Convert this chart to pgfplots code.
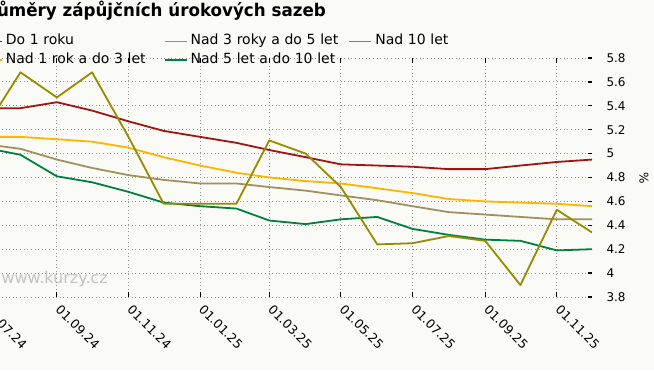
\documentclass[border=0pt]{standalone}
\usepackage{pgfplots}
\pgfplotsset{compat=1.18}
\usepackage{fontspec}
\setmainfont{DejaVu Sans}
\definecolor{bg}{RGB}{250,250,246}
\definecolor{cred}{RGB}{160,20,20}
\definecolor{corange}{RGB}{255,180,0}
\definecolor{ckhaki}{RGB}{160,145,95}
\definecolor{cgreen}{RGB}{0,128,64}
\definecolor{colive}{RGB}{150,140,0}
\definecolor{gridc}{RGB}{150,150,150}
\definecolor{wm}{RGB}{195,195,195}
\pgfplotsset{mylegimg/.style={legend image code/.code={\path (0pt,0pt) -- (22pt,0pt); \draw[##1, line width=1.8pt] (0pt,0pt) -- (13pt,0pt);}}}

\begin{document}
\begin{tikzpicture}[x=1pt,y=1pt]
\fill[bg] (0,0) rectangle (654,370);
\useasboundingbox (0,0) rectangle (654,370);
\clip (0,0) rectangle (654,370);
\node[anchor=base east, inner sep=0pt, xscale=0.955, transform shape, font=\bfseries\fontsize{17.5}{20}\selectfont] at (326,353) {Průměry zápůjčních úrokových sazeb};
\node[anchor=east, inner sep=0pt, text=wm, font=\fontsize{16}{18}\selectfont] at (108,91) {www.kurzy.cz};
\begin{axis}[
  at={(-15.9pt,73pt)}, anchor=south west, scale only axis,
  width=607.9pt, height=239pt,
  xmin=0, xmax=518, ymin=3.8, ymax=5.8,
  axis line style={draw=none},
  grid=major,
  major grid style={gridc, dash pattern=on 1pt off 2.6pt, line width=0.8pt},
  xtick={0,62,123,184,243,304,365,427,488},
  xticklabels={01.07.24,01.09.24,01.11.24,01.01.25,01.03.25,01.05.25,01.07.25,01.09.25,01.11.25},
  minor x tick num=5,
  xtick pos=both,
  ytick={3.8,4,4.2,4.4,4.6,4.8,5,5.2,5.4,5.6,5.8},
  yticklabels={3.8,4,4.2,4.4,4.6,4.8,5,5.2,5.4,5.6,5.8},
  ytick pos=right, yticklabel pos=right,
  tick align=inside,
  major tick length=4.5pt, minor tick length=2.5pt,
  tick style={black, line width=0.8pt},
  ytick style={line width=1.3pt},
  xticklabel style={rotate=-45, anchor=north west, font=\fontsize{12.5}{14}\selectfont, xshift=4.8pt, yshift=1.8pt},
  yticklabel style={font=\fontsize{12}{14}\selectfont, anchor=west, xshift=11pt},
  ylabel={\%},
  ylabel style={at={(axis description cs:1.0855,0.498)}, anchor=center, font=\fontsize{12}{14}\selectfont, rotate=180},
  legend columns=3,
  legend cell align=left,
  legend style={draw=none, fill=none, inner sep=0pt, outer sep=0pt,
    at={(-0.0084,1.0963)}, anchor=north west,
    font=\fontsize{14}{16}\selectfont, row sep=5.5pt,
    nodes={text width=155pt, align=left, inner xsep=3pt, inner ysep=0pt, text height=10pt, text depth=3pt}},
  every axis plot/.append style={line width=1.8pt, line join=round},
]
\addlegendimage{cred, mylegimg}
\addlegendentry{Do 1 roku}
\addlegendimage{ckhaki, mylegimg}
\addlegendentry{Nad 3 roky a do 5 let}
\addlegendimage{colive, mylegimg}
\addlegendentry{Nad 10 let}
\addlegendimage{corange, mylegimg}
\addlegendentry{Nad 1 rok a do 3 let}
\addlegendimage{cgreen, mylegimg}
\addlegendentry{Nad 5 let a do 10 let}

% Do 1 roku
\addplot[cred, forget plot] coordinates {(0,5.38) (31,5.38) (62,5.43) (92,5.36) (123,5.27) (153,5.19) (184,5.14) (215,5.09) (243,5.03) (274,4.97) (304,4.91) (335,4.90) (365,4.89) (396,4.87) (427,4.87) (457,4.90) (488,4.93) (518,4.95)};
% Nad 1 rok a do 3 let
\addplot[corange, forget plot] coordinates {(0,5.14) (31,5.14) (62,5.12) (92,5.10) (123,5.05) (153,4.97) (184,4.90) (215,4.84) (243,4.80) (274,4.77) (304,4.75) (335,4.71) (365,4.67) (396,4.62) (427,4.60) (457,4.59) (488,4.58) (518,4.56)};
% Nad 3 roky a do 5 let
\addplot[ckhaki, forget plot] coordinates {(0,5.08) (31,5.04) (62,4.95) (92,4.88) (123,4.82) (153,4.78) (184,4.75) (215,4.75) (243,4.72) (274,4.69) (304,4.65) (335,4.61) (365,4.56) (396,4.51) (427,4.49) (457,4.47) (488,4.45) (518,4.45)};
% Nad 5 let a do 10 let
\addplot[cgreen, forget plot] coordinates {(0,5.05) (31,4.99) (62,4.81) (92,4.76) (123,4.68) (153,4.59) (184,4.56) (215,4.54) (243,4.44) (274,4.41) (304,4.45) (335,4.47) (365,4.37) (396,4.32) (427,4.28) (457,4.27) (488,4.19) (518,4.20)};
% Nad 10 let
\addplot[colive, forget plot] coordinates {(0,5.20) (31,5.68) (62,5.47) (92,5.68) (123,5.14) (153,4.58) (184,4.58) (215,4.58) (243,5.11) (274,5.00) (304,4.72) (335,4.24) (365,4.25) (396,4.31) (427,4.27) (457,3.90) (488,4.53) (518,4.34)};
\end{axis}
\end{tikzpicture}
\end{document}
